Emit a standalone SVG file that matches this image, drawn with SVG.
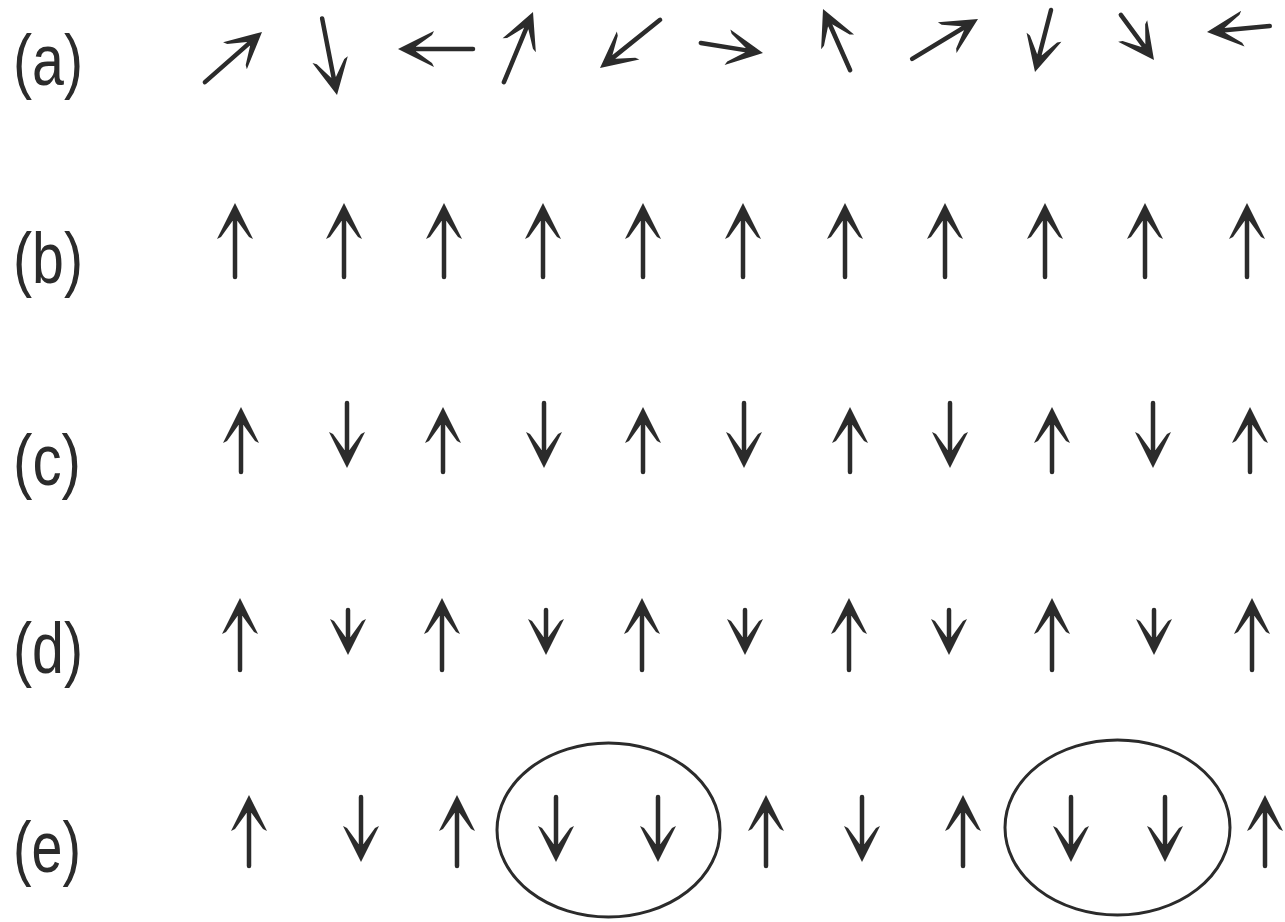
<svg xmlns="http://www.w3.org/2000/svg" width="1285" height="922" viewBox="0 0 1285 922">
<style>
.s{stroke:#2b2b2b;stroke-width:4.5;stroke-linecap:round;fill:none}
.h{fill:#2b2b2b}
.lbl{font-family:"Liberation Sans",Arial,sans-serif;font-size:72px;fill:#2b2b2b}
.ring{fill:none;stroke:#2b2b2b;stroke-width:3}
</style>
<defs>
<path id="hd" class="h" d="M0,0 L-36,-18 L-34,-14 L-18,-2.5 L-18,2.5 L-34,14 L-36,18 Z"/>
</defs>
<rect width="1285" height="922" fill="#ffffff"/>
<g id="labels">
<text class="lbl" x="13" y="85" textLength="70" lengthAdjust="spacingAndGlyphs">(a)</text>
<text class="lbl" x="13" y="283" textLength="70" lengthAdjust="spacingAndGlyphs">(b)</text>
<text class="lbl" x="13" y="485" textLength="68" lengthAdjust="spacingAndGlyphs">(c)</text>
<text class="lbl" x="13" y="673" textLength="70" lengthAdjust="spacingAndGlyphs">(d)</text>
<text class="lbl" x="13" y="872" textLength="68" lengthAdjust="spacingAndGlyphs">(e)</text>
</g>
<g id="row-a">
<g id="a1" transform="translate(262,32) rotate(-41.3)"><line class="s" x1="-76" y1="0" x2="-15" y2="0"/><use href="#hd"/></g>
<g id="a2" transform="translate(337,95) rotate(79)"><line class="s" x1="-78" y1="0" x2="-15" y2="0"/><use href="#hd"/></g>
<g id="a3" transform="translate(398,49) rotate(180)"><line class="s" x1="-75" y1="0" x2="-15" y2="0"/><use href="#hd"/></g>
<g id="a4" transform="translate(533,12) rotate(-67.5)"><line class="s" x1="-76" y1="0" x2="-15" y2="0"/><use href="#hd"/></g>
<g id="a5" transform="translate(600,68) rotate(141.3)"><line class="s" x1="-77" y1="0" x2="-15" y2="0"/><use href="#hd"/></g>
<g id="a6" transform="translate(763,53) rotate(9.2)"><line class="s" x1="-63" y1="0" x2="-15" y2="0"/><use href="#hd"/></g>
<g id="a7" transform="translate(823,9) rotate(-113.9)"><line class="s" x1="-67" y1="0" x2="-15" y2="0"/><use href="#hd"/></g>
<g id="a8" transform="translate(978,19) rotate(-31.2)"><line class="s" x1="-77" y1="0" x2="-15" y2="0"/><use href="#hd"/></g>
<g id="a9" transform="translate(1035,72) rotate(104.5)"><line class="s" x1="-64" y1="0" x2="-15" y2="0"/><use href="#hd"/></g>
<g id="a10" transform="translate(1154,60) rotate(53.7)"><line class="s" x1="-56" y1="0" x2="-15" y2="0"/><use href="#hd"/></g>
<g id="a11" transform="translate(1207,32) rotate(174.6)"><line class="s" x1="-63" y1="0" x2="-15" y2="0"/><use href="#hd"/></g>
</g>
<g id="row-b">
<g id="b1" transform="translate(235,203) rotate(-90)"><line class="s" x1="-74" y1="0" x2="-15" y2="0"/><use href="#hd"/></g>
<g id="b2" transform="translate(344,203) rotate(-90)"><line class="s" x1="-74" y1="0" x2="-15" y2="0"/><use href="#hd"/></g>
<g id="b3" transform="translate(444,203) rotate(-90)"><line class="s" x1="-74" y1="0" x2="-15" y2="0"/><use href="#hd"/></g>
<g id="b4" transform="translate(543,203) rotate(-90)"><line class="s" x1="-74" y1="0" x2="-15" y2="0"/><use href="#hd"/></g>
<g id="b5" transform="translate(643,203) rotate(-90)"><line class="s" x1="-74" y1="0" x2="-15" y2="0"/><use href="#hd"/></g>
<g id="b6" transform="translate(743,203) rotate(-90)"><line class="s" x1="-74" y1="0" x2="-15" y2="0"/><use href="#hd"/></g>
<g id="b7" transform="translate(845,203) rotate(-90)"><line class="s" x1="-74" y1="0" x2="-15" y2="0"/><use href="#hd"/></g>
<g id="b8" transform="translate(945,203) rotate(-90)"><line class="s" x1="-74" y1="0" x2="-15" y2="0"/><use href="#hd"/></g>
<g id="b9" transform="translate(1045,203) rotate(-90)"><line class="s" x1="-74" y1="0" x2="-15" y2="0"/><use href="#hd"/></g>
<g id="b10" transform="translate(1145,203) rotate(-90)"><line class="s" x1="-74" y1="0" x2="-15" y2="0"/><use href="#hd"/></g>
<g id="b11" transform="translate(1247,203) rotate(-90)"><line class="s" x1="-74" y1="0" x2="-15" y2="0"/><use href="#hd"/></g>
</g>
<g id="row-c">
<g id="c1" transform="translate(241,407) rotate(-90)"><line class="s" x1="-65" y1="0" x2="-15" y2="0"/><use href="#hd"/></g>
<g id="c2" transform="translate(347,468) rotate(90)"><line class="s" x1="-65" y1="0" x2="-15" y2="0"/><use href="#hd"/></g>
<g id="c3" transform="translate(443,407) rotate(-90)"><line class="s" x1="-65" y1="0" x2="-15" y2="0"/><use href="#hd"/></g>
<g id="c4" transform="translate(544,468) rotate(90)"><line class="s" x1="-65" y1="0" x2="-15" y2="0"/><use href="#hd"/></g>
<g id="c5" transform="translate(643,407) rotate(-90)"><line class="s" x1="-65" y1="0" x2="-15" y2="0"/><use href="#hd"/></g>
<g id="c6" transform="translate(744,468) rotate(90)"><line class="s" x1="-65" y1="0" x2="-15" y2="0"/><use href="#hd"/></g>
<g id="c7" transform="translate(850,407) rotate(-90)"><line class="s" x1="-65" y1="0" x2="-15" y2="0"/><use href="#hd"/></g>
<g id="c8" transform="translate(950,468) rotate(90)"><line class="s" x1="-65" y1="0" x2="-15" y2="0"/><use href="#hd"/></g>
<g id="c9" transform="translate(1052,407) rotate(-90)"><line class="s" x1="-65" y1="0" x2="-15" y2="0"/><use href="#hd"/></g>
<g id="c10" transform="translate(1153,468) rotate(90)"><line class="s" x1="-65" y1="0" x2="-15" y2="0"/><use href="#hd"/></g>
<g id="c11" transform="translate(1250,407) rotate(-90)"><line class="s" x1="-65" y1="0" x2="-15" y2="0"/><use href="#hd"/></g>
</g>
<g id="row-d">
<g id="d1" transform="translate(240,598) rotate(-90)"><line class="s" x1="-72" y1="0" x2="-15" y2="0"/><use href="#hd"/></g>
<g id="d2" transform="translate(348,655) rotate(90)"><line class="s" x1="-45" y1="0" x2="-15" y2="0"/><use href="#hd"/></g>
<g id="d3" transform="translate(442,598) rotate(-90)"><line class="s" x1="-72" y1="0" x2="-15" y2="0"/><use href="#hd"/></g>
<g id="d4" transform="translate(546,655) rotate(90)"><line class="s" x1="-45" y1="0" x2="-15" y2="0"/><use href="#hd"/></g>
<g id="d5" transform="translate(642,598) rotate(-90)"><line class="s" x1="-72" y1="0" x2="-15" y2="0"/><use href="#hd"/></g>
<g id="d6" transform="translate(745,655) rotate(90)"><line class="s" x1="-45" y1="0" x2="-15" y2="0"/><use href="#hd"/></g>
<g id="d7" transform="translate(849,598) rotate(-90)"><line class="s" x1="-72" y1="0" x2="-15" y2="0"/><use href="#hd"/></g>
<g id="d8" transform="translate(949,655) rotate(90)"><line class="s" x1="-45" y1="0" x2="-15" y2="0"/><use href="#hd"/></g>
<g id="d9" transform="translate(1052,598) rotate(-90)"><line class="s" x1="-72" y1="0" x2="-15" y2="0"/><use href="#hd"/></g>
<g id="d10" transform="translate(1154,655) rotate(90)"><line class="s" x1="-45" y1="0" x2="-15" y2="0"/><use href="#hd"/></g>
<g id="d11" transform="translate(1252,598) rotate(-90)"><line class="s" x1="-72" y1="0" x2="-15" y2="0"/><use href="#hd"/></g>
</g>
<g id="row-e">
<ellipse id="pair1" class="ring" cx="608.5" cy="830" rx="111.5" ry="87"/>
<ellipse id="pair2" class="ring" cx="1117.5" cy="827.5" rx="112.5" ry="87.5"/>
<g id="e1" transform="translate(249,795) rotate(-90)"><line class="s" x1="-71" y1="0" x2="-15" y2="0"/><use href="#hd"/></g>
<g id="e2" transform="translate(361,862) rotate(90)"><line class="s" x1="-65" y1="0" x2="-15" y2="0"/><use href="#hd"/></g>
<g id="e3" transform="translate(457,795) rotate(-90)"><line class="s" x1="-71" y1="0" x2="-15" y2="0"/><use href="#hd"/></g>
<g id="e4" transform="translate(556,862) rotate(90)"><line class="s" x1="-65" y1="0" x2="-15" y2="0"/><use href="#hd"/></g>
<g id="e5" transform="translate(658,862) rotate(90)"><line class="s" x1="-65" y1="0" x2="-15" y2="0"/><use href="#hd"/></g>
<g id="e6" transform="translate(766,795) rotate(-90)"><line class="s" x1="-71" y1="0" x2="-15" y2="0"/><use href="#hd"/></g>
<g id="e7" transform="translate(862,862) rotate(90)"><line class="s" x1="-65" y1="0" x2="-15" y2="0"/><use href="#hd"/></g>
<g id="e8" transform="translate(963,795) rotate(-90)"><line class="s" x1="-71" y1="0" x2="-15" y2="0"/><use href="#hd"/></g>
<g id="e9" transform="translate(1071,862) rotate(90)"><line class="s" x1="-65" y1="0" x2="-15" y2="0"/><use href="#hd"/></g>
<g id="e10" transform="translate(1165,862) rotate(90)"><line class="s" x1="-65" y1="0" x2="-15" y2="0"/><use href="#hd"/></g>
<g id="e11" transform="translate(1265,795) rotate(-90)"><line class="s" x1="-71" y1="0" x2="-15" y2="0"/><use href="#hd"/></g>
</g>
</svg>
